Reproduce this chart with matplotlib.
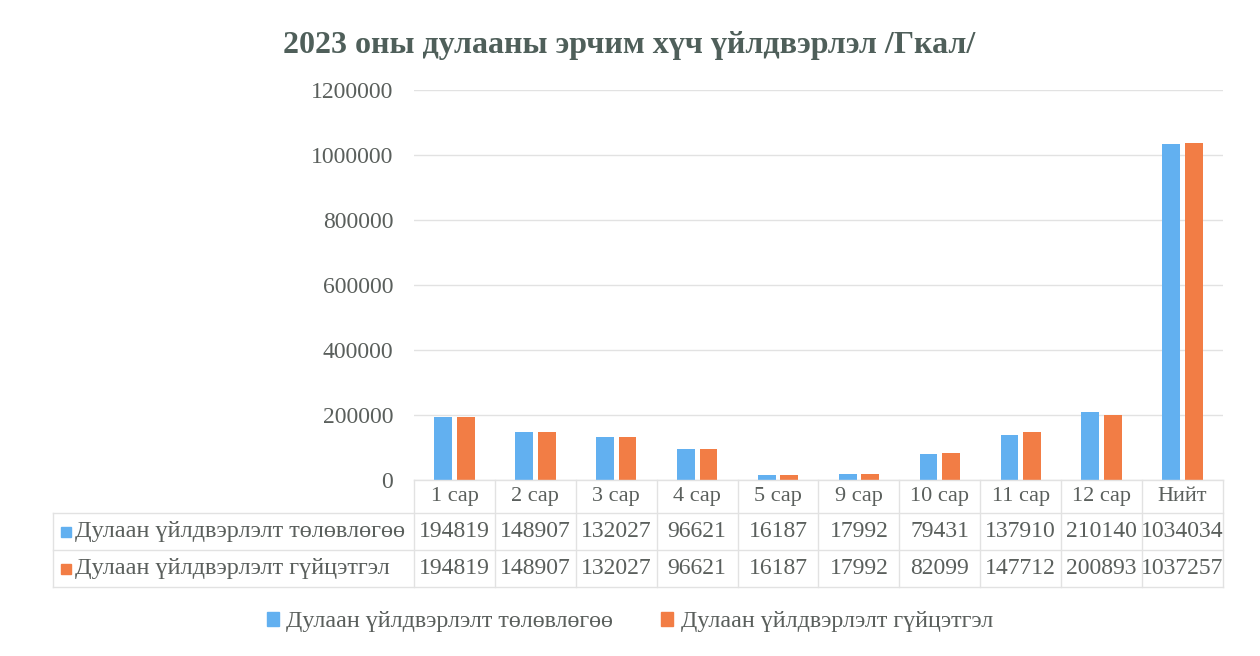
import matplotlib
matplotlib.use('Agg')
import matplotlib.pyplot as plt
import matplotlib.transforms as mtransforms
from matplotlib.patches import Rectangle
import numpy as np

# chart data
categories = ['1 сар', '2 сар', '3 сар', '4 сар', '5 сар', '9 сар', '10 сар', '11 сар', '12 сар', 'Нийт']
plan = [194819, 148907, 132027, 96621, 16187, 17992, 79431, 137910, 210140, 1034034]
actual = [194819, 148907, 132027, 96621, 16187, 17992, 82099, 147712, 200893, 1037257]
series_names = ['Дулаан үйлдвэрлэлт төлөвлөгөө', 'Дулаан үйлдвэрлэлт гүйцэтгэл']
yticks = [0, 200000, 400000, 600000, 800000, 1000000, 1200000]

title = '2023 оны дулааны эрчим хүч үйлдвэрлэл /Гкал/'

blue = '#62b0f0'
orange = '#f27d45'
text_c = '#5a5f5c'
grid_c = '#e2e2e2'

plt.rcParams['font.family'] = ['Liberation Serif', 'DejaVu Serif']

W, H = 1260, 656
fig = plt.figure(figsize=(W / 100, H / 100), dpi=100)
ax = fig.add_axes([414 / W, 1 - 480 / H, (1223 - 414) / W, (480 - 90) / H])

x = np.arange(len(categories))
bw = 0.22
ax.bar(x - 0.14, plan, bw, color=blue, zorder=3)
ax.bar(x + 0.14, actual, bw, color=orange, zorder=3)

ax.set_xlim(-0.5, len(categories) - 0.5)
ax.set_ylim(0, 1200000)
ax.set_yticks(yticks)
ax.set_yticklabels([str(v) for v in yticks], fontsize=17, color=text_c)
ax.tick_params(axis='y', length=0, pad=15)
ax.set_xticks([])
ax.grid(axis='y', color=grid_c, lw=1, zorder=0)
for s in ax.spines.values():
    s.set_visible(False)

fig.text(0.5 * (283 + 975) / W, 1 - 46 / H, title, ha='center', va='center',
         fontsize=23, fontweight='bold', color='#4f5f5a')

# data table under the axis
tr = mtransforms.blended_transform_factory(ax.transData, fig.transFigure)
row_y = [480, 513, 550, 587]
yc = [1 - (row_y[k] + row_y[k + 1]) / 2 / H for k in range(3)]
for i, c in enumerate(categories):
    ax.text(i, yc[0], c, transform=tr, ha='center', va='center', fontsize=16,
            color=text_c, clip_on=False)
    ax.text(i, yc[1], str(plan[i]), transform=tr, ha='center', va='center',
            fontsize=17, color=text_c, clip_on=False)
    ax.text(i, yc[2], str(actual[i]), transform=tr, ha='center', va='center',
            fontsize=17, color=text_c, clip_on=False)

line_kw = dict(color=grid_c, lw=1, transform=fig.transFigure)
x0 = 414 / W
x1 = 1223 / W
xl = 53 / W
for k, yy in enumerate(row_y):
    left = x0 if k == 0 else xl
    fig.add_artist(plt.Line2D([left, x1], [1 - yy / H] * 2, **line_kw))
for i in range(len(categories) + 1):
    xx = x0 + (x1 - x0) * i / len(categories)
    fig.add_artist(plt.Line2D([xx, xx], [1 - 480 / H, 1 - 587 / H], **line_kw))
fig.add_artist(plt.Line2D([xl, xl], [1 - 513 / H, 1 - 587 / H], **line_kw))

for k, (name, col) in enumerate(zip(series_names, [blue, orange])):
    ymid = yc[k + 1]
    fig.add_artist(Rectangle((61 / W, ymid - 5 / H), 10 / W, 10 / H,
                             transform=fig.transFigure, color=col))
    fig.text(75 / W, ymid, name, ha='left', va='center', fontsize=17.5, color=text_c)

# legend
handles = [Rectangle((0, 0), 1, 1, color=blue), Rectangle((0, 0), 1, 1, color=orange)]
fig.legend(handles, series_names, loc='center', bbox_to_anchor=(0.5, 1 - 622 / H),
           ncol=2, frameon=False, fontsize=17.3, handlelength=0.5, handleheight=0.5,
           handletextpad=0.3, columnspacing=2.0, labelcolor=text_c)

fig.savefig('out.png', dpi=100)
